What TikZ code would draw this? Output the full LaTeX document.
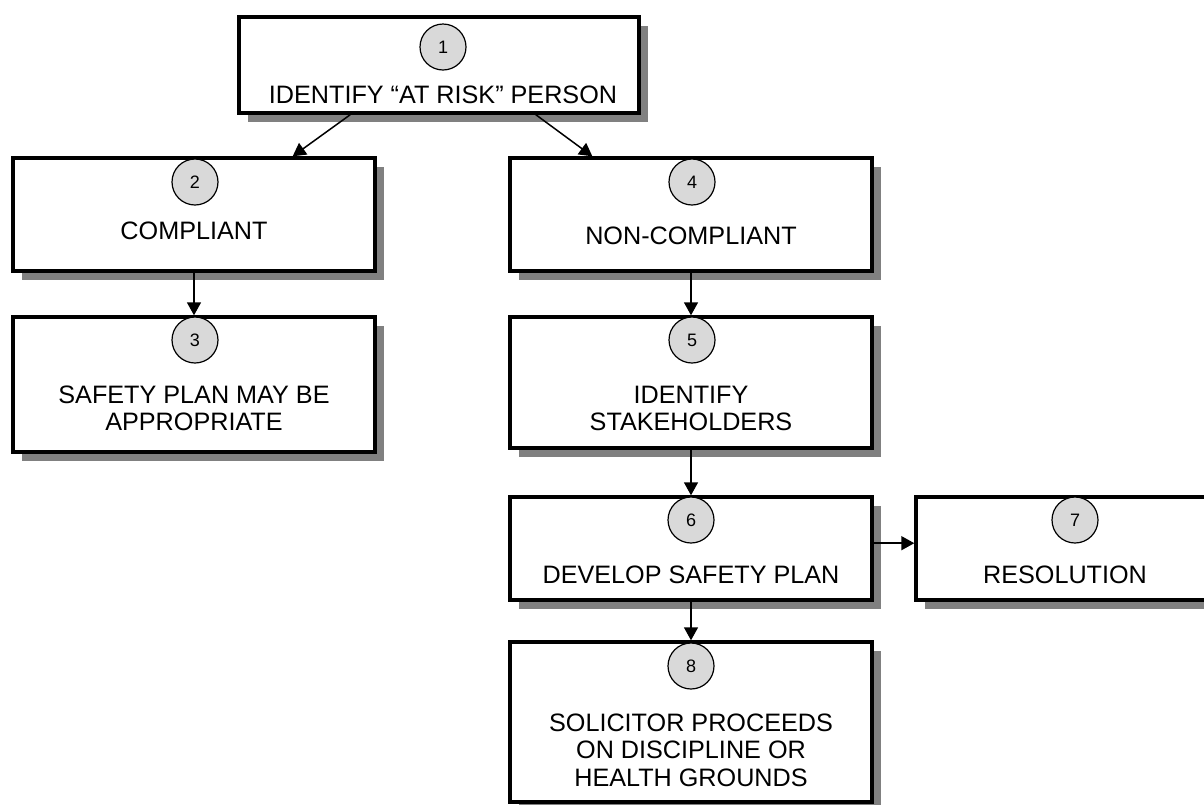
\documentclass[tikz,border=0pt]{standalone}
\usepackage{fontspec}
\setmainfont{Liberation Sans}
\usetikzlibrary{arrows.meta,calc,shadows}
\tikzset{
  stepbox/.style={draw,line width=1.7pt,fill=white,rectangle,minimum width=181pt,
    drop shadow={shadow xshift=4.5pt,shadow yshift=-4.5pt,fill=black!50,opacity=1}},
  steptext/.style={align=center,inner sep=0pt,font=\fontsize{12.6}{13.8}\selectfont},
  stepnum/.style={draw,circle,line width=0.6pt,fill=black!15,minimum size=23pt,
    inner sep=0pt,font=\fontsize{9}{10}\selectfont},
  steparrow/.style={-{Triangle[length=6.5pt,width=7pt]},line width=0.75pt}
}
\begin{document}
\begin{tikzpicture}[x=0.5pt,y=-0.5pt]
    \useasboundingbox (0,0) rectangle (1204,804);
    \clip (0,0) rectangle (1204,804);
    %% Boxes
    \node[stepbox,minimum width=200pt,minimum height=48pt] (b1) at (439,65) {};
    \node[stepbox,minimum height=56.5pt] (b2) at (194,214.5) {};
    \node[stepbox,minimum height=67.5pt] (b3) at (194,384.5) {};
    \node[stepbox,minimum height=56.5pt] (b4) at (691,214.5) {};
    \node[stepbox,minimum height=65.5pt] (b5) at (691,382.5) {};
    \node[stepbox,minimum height=51.5pt] (b6) at (691,548.5) {};
    \node[stepbox,minimum height=51.5pt] (b7) at (1097,548.5) {};
    \node[stepbox,minimum height=80pt] (b8) at (691,722) {};
    %% Labels
    \node[steptext] (t1) at (443,95) {IDENTIFY “AT RISK” PERSON};
    \node[steptext] (t2) at (194,231) {COMPLIANT};
    \node[steptext] (t3) at (194,408.5) {SAFETY PLAN MAY BE\\APPROPRIATE};
    \node[steptext] (t4) at (691,236) {NON-COMPLIANT};
    \node[steptext] (t5) at (691,408.5) {IDENTIFY\\STAKEHOLDERS};
    \node[steptext] (t6) at (691,575) {DEVELOP SAFETY PLAN};
    \node[steptext] (t7) at (1065,575) {RESOLUTION};
    \node[steptext] (t8) at (691,750) {SOLICITOR PROCEEDS\\ON DISCIPLINE OR\\HEALTH GROUNDS};
    %% Arrows
    \draw[steparrow] ($(b1.south west)!.28!(b1.south east)$) -- ($(b2.north west)!.77!(b2.north east)$);
    \draw[steparrow] ($(b1.south west)!.74!(b1.south east)$) -- ($(b4.north west)!.23!(b4.north east)$);
    \draw[steparrow] (b2.south) -- (b3.north);
    \draw[steparrow] (b4.south) -- (b5.north);
    \draw[steparrow] (b5.south) -- (b6.north);
    \draw[steparrow] (b6.south) -- (b8.north);
    \draw[steparrow] ($(b6.north east)!.45!(b6.south east)$) -- ($(b7.north west)!.45!(b7.south west)$);
    %% Numbers
    \node[stepnum] (n1) at (443,47) {1};
    \node[stepnum] (n2) at (195,182) {2};
    \node[stepnum] (n3) at (195,340) {3};
    \node[stepnum] (n4) at (692,182) {4};
    \node[stepnum] (n5) at (692,340) {5};
    \node[stepnum] (n6) at (691,520) {6};
    \node[stepnum] (n7) at (1075,520) {7};
    \node[stepnum] (n8) at (691,666) {8};
\end{tikzpicture}
\end{document}
